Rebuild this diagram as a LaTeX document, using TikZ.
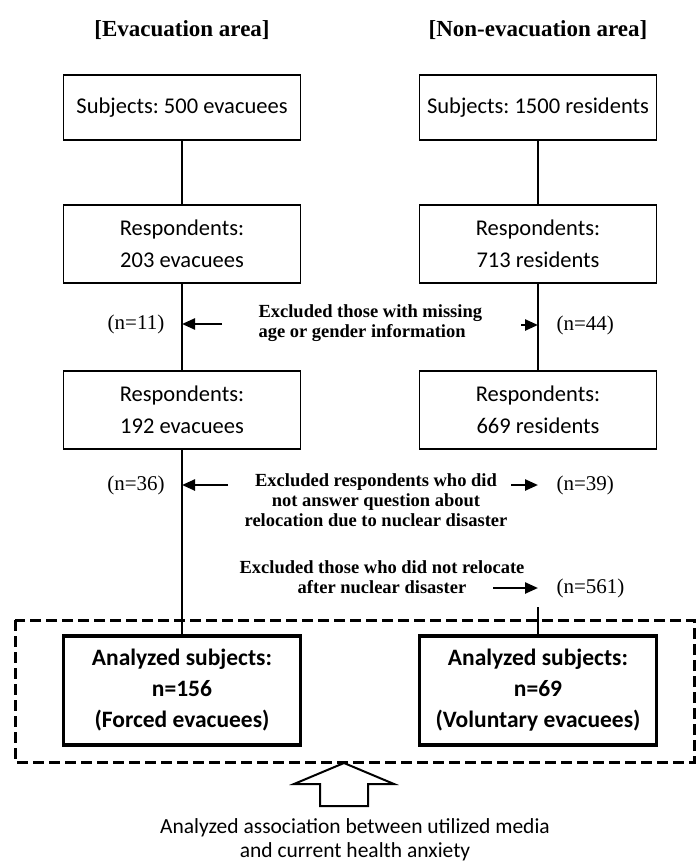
\documentclass[tikz,border=0pt]{standalone}
\usepackage{fontspec}
\setmainfont{Liberation Serif}
\newfontfamily\boxfont{Carlito}
\usetikzlibrary{arrows.meta}
\frenchspacing

\begin{document}
\begin{tikzpicture}[
    x=1pt, y=-1pt,
    flowbox/.style={rectangle, draw, line width=1.8pt, minimum width=237pt, inner sep=0pt, align=center, font=\boxfont\fontsize{22.5}{32}\selectfont},
    resultbox/.style={flowbox, line width=3.8pt, font=\boxfont\bfseries\fontsize{23.5}{31}\selectfont},
    areahead/.style={font=\bfseries\fontsize{23}{26}\selectfont},
    excltext/.style={font=\bfseries\fontsize{18.5}{20}\selectfont},
    nlabel/.style={font=\fontsize{21}{22}\selectfont},
    flowline/.style={line width=1.8pt},
    exclarrow/.style={line width=2.4pt, -{Triangle[length=13pt, width=11pt]}}
]
    \useasboundingbox (0,0) rectangle (697,865);

    % area headings
    \node[areahead] (hevac) at (182,30) {[Evacuation area]};
    \node[areahead] (hnon) at (538,30) {[Non-evacuation area]};

    % evacuation area
    \node[flowbox, minimum height=65pt] (e1) at (182,107.5) {Subjects: 500 evacuees};
    \node[flowbox, minimum height=78pt] (e2) at (182,244) {Respondents:\\203 evacuees};
    \node[flowbox, minimum height=78pt] (e3) at (182,410) {Respondents:\\192 evacuees};
    \node[resultbox, minimum height=109pt] (e4) at (182,690.5) {Analyzed subjects:\\n=156\\(Forced evacuees)};

    % non-evacuation area
    \node[flowbox, minimum height=65pt] (r1) at (538,107.5) {Subjects: 1500 residents};
    \node[flowbox, minimum height=78pt] (r2) at (538,244) {Respondents:\\713 residents};
    \node[flowbox, minimum height=78pt] (r3) at (538,410) {Respondents:\\669 residents};
    \node[resultbox, minimum height=109pt] (r4) at (538,690.5) {Analyzed subjects:\\n=69\\(Voluntary evacuees)};

    % flow lines
    \draw[flowline] (e1) -- (e2);
    \draw[flowline] (e2) -- (e3);
    \draw[flowline] (e3) -- (e4);
    \draw[flowline] (r1) -- (r2);
    \draw[flowline] (r2) -- (r3);
    \coordinate (rtop) at (538,607);
    \draw[flowline] (rtop) -- (r4.north);

    % exclusions
    \node[excltext, align=left, anchor=west] (x1) at (255,323) {Excluded those with missing\\age or gender information};
    \node[nlabel] (n11) at (136,324) {(n=11)};
    \node[nlabel, anchor=west] (n44) at (553,325) {(n=44)};
    \coordinate (a1) at (222,324);
    \coordinate (b1) at (521,325);
    \draw[exclarrow] (a1) -- (a1 -| e2.south);
    \draw[exclarrow] (b1) -- (b1 -| r2.south);

    \node[excltext, align=center] (x2) at (376,500) {Excluded respondents who did\\not answer question about\\relocation due to nuclear disaster};
    \node[nlabel] (n36) at (136,485) {(n=36)};
    \node[nlabel, anchor=west] (n39) at (553,485) {(n=39)};
    \coordinate (a2) at (228,485);
    \coordinate (b2) at (511,485);
    \draw[exclarrow] (a2) -- (a2 -| e3.south);
    \draw[exclarrow] (b2) -- (b2 -| r3.south);

    \node[excltext, align=center] (x3) at (382,577) {Excluded those who did not relocate\\after nuclear disaster};
    \node[nlabel, anchor=west] (n561) at (553,588) {(n=561)};
    \coordinate (b3) at (493,588);
    \draw[exclarrow] (b3) -- (b3 -| r3.south);

    % analysed group
    \draw[line width=3pt, dash pattern=on 11pt off 5pt] (15,620) rectangle (694,762);
    \draw[line width=2pt, fill=white] (344,763) -- (394,784) -- (368,784) -- (368,806)
        -- (320,806) -- (320,784) -- (294,784) -- cycle;
    \node[font=\boxfont\fontsize{21.5}{24}\selectfont, align=center] (assoc) at (355,840)
        {Analyzed association between utilized media\\and current health anxiety};
\end{tikzpicture}
\end{document}
